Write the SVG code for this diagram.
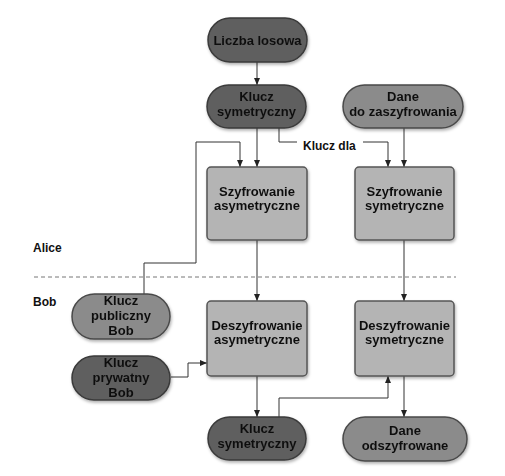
<svg xmlns="http://www.w3.org/2000/svg" width="505" height="476" viewBox="0 0 505 476">
<style>
.dark{fill:#5e5e5e;stroke:#3a3a3a;stroke-width:1.5}
.mid{fill:#8b8b8b;stroke:#4a4a4a;stroke-width:1.5}
.box{fill:#b4b4b4;stroke:#555;stroke-width:1.5}
text{font-family:"Liberation Sans",Arial,sans-serif;font-weight:bold;font-size:13px;fill:#111;text-anchor:middle}
.lbl{text-anchor:start;font-size:12px}
.c{fill:none;stroke:#333;stroke-width:1}
</style>
<defs>
<marker id="ah" viewBox="0 0 7 6" refX="7" refY="3" markerWidth="7" markerHeight="6" orient="auto" markerUnits="userSpaceOnUse">
<path d="M0,0 L7,3 L0,6 Z" fill="#222"/>
</marker>
<filter id="sh" x="-10%" y="-10%" width="130%" height="140%">
<feDropShadow dx="1" dy="2" stdDeviation="1.5" flood-color="#000" flood-opacity="0.3"/>
</filter>
</defs>
<rect width="505" height="476" fill="#fff"/>
<text class="lbl" x="33" y="252">Alice</text>
<text class="lbl" x="33" y="306">Bob</text>
<line x1="34" y1="277" x2="456" y2="277" stroke="#777" stroke-width="1" stroke-dasharray="4,3"/>
<g id="connectors">
<path class="c" d="M257,62 V85" marker-end="url(#ah)"/>
<path class="c" d="M257,128 V167" marker-end="url(#ah)"/>
<path class="c" d="M279,128 V142 H297"/>
<path class="c" d="M363,142 H388 V167" marker-end="url(#ah)"/>
<path class="c" d="M404,128 V167" marker-end="url(#ah)"/>
<path class="c" d="M144,294 V263 H196 V142 H240 V167" marker-end="url(#ah)"/>
<path class="c" d="M257,240 V301" marker-end="url(#ah)"/>
<path class="c" d="M404,240 V301" marker-end="url(#ah)"/>
<path class="c" d="M171,377 H188 V363 H207" marker-end="url(#ah)"/>
<path class="c" d="M257,376 V417" marker-end="url(#ah)"/>
<path class="c" d="M279,417 V398 H388 V376" marker-end="url(#ah)"/>
<path class="c" d="M404,376 V417" marker-end="url(#ah)"/>
<text class="lbl" x="303" y="150" font-size="13">Klucz dla</text>
</g>
<g id="liczba-losowa" filter="url(#sh)">
<rect class="dark" x="208" y="18" width="99" height="44" rx="22"/>
<text x="257.5" y="45">Liczba losowa</text>
</g>
<g id="klucz-symetryczny-alice" filter="url(#sh)">
<rect class="dark" x="207" y="85" width="99" height="43" rx="21.5"/>
<text x="256.5" y="101">Klucz</text>
<text x="256.5" y="116">symetryczny</text>
</g>
<g id="dane-do-zaszyfrowania" filter="url(#sh)">
<rect class="mid" x="343" y="85" width="120" height="43" rx="21.5"/>
<text x="403" y="101">Dane</text>
<text x="403" y="116">do zaszyfrowania</text>
</g>
<g id="szyfrowanie-asymetryczne" filter="url(#sh)">
<rect class="box" x="207" y="167" width="100" height="73" rx="4"/>
<text x="257" y="196">Szyfrowanie</text>
<text x="257" y="210">asymetryczne</text>
</g>
<g id="szyfrowanie-symetryczne" filter="url(#sh)">
<rect class="box" x="355" y="167" width="99" height="73" rx="4"/>
<text x="404.5" y="196">Szyfrowanie</text>
<text x="404.5" y="210">symetryczne</text>
</g>
<g id="klucz-publiczny-bob" filter="url(#sh)">
<rect class="mid" x="72" y="294" width="98" height="45" rx="22.5"/>
<text x="121" y="305">Klucz</text>
<text x="121" y="320">publiczny</text>
<text x="121" y="335">Bob</text>
</g>
<g id="klucz-prywatny-bob" filter="url(#sh)">
<rect class="dark" x="72" y="356" width="98" height="44" rx="22"/>
<text x="121" y="367">Klucz</text>
<text x="121" y="382">prywatny</text>
<text x="121" y="397">Bob</text>
</g>
<g id="deszyfrowanie-asymetryczne" filter="url(#sh)">
<rect class="box" x="207" y="301" width="100" height="75" rx="4"/>
<text x="257" y="330">Deszyfrowanie</text>
<text x="257" y="344">asymetryczne</text>
</g>
<g id="deszyfrowanie-symetryczne" filter="url(#sh)">
<rect class="box" x="355" y="301" width="99" height="75" rx="4"/>
<text x="404.5" y="330">Deszyfrowanie</text>
<text x="404.5" y="344">symetryczne</text>
</g>
<g id="klucz-symetryczny-bob" filter="url(#sh)">
<rect class="dark" x="208" y="417" width="98" height="43" rx="21.5"/>
<text x="257" y="433">Klucz</text>
<text x="257" y="448">symetryczny</text>
</g>
<g id="dane-odszyfrowane" filter="url(#sh)">
<rect class="mid" x="343" y="417" width="124" height="44" rx="22"/>
<text x="405" y="435">Dane</text>
<text x="405" y="450">odszyfrowane</text>
</g>
</svg>
